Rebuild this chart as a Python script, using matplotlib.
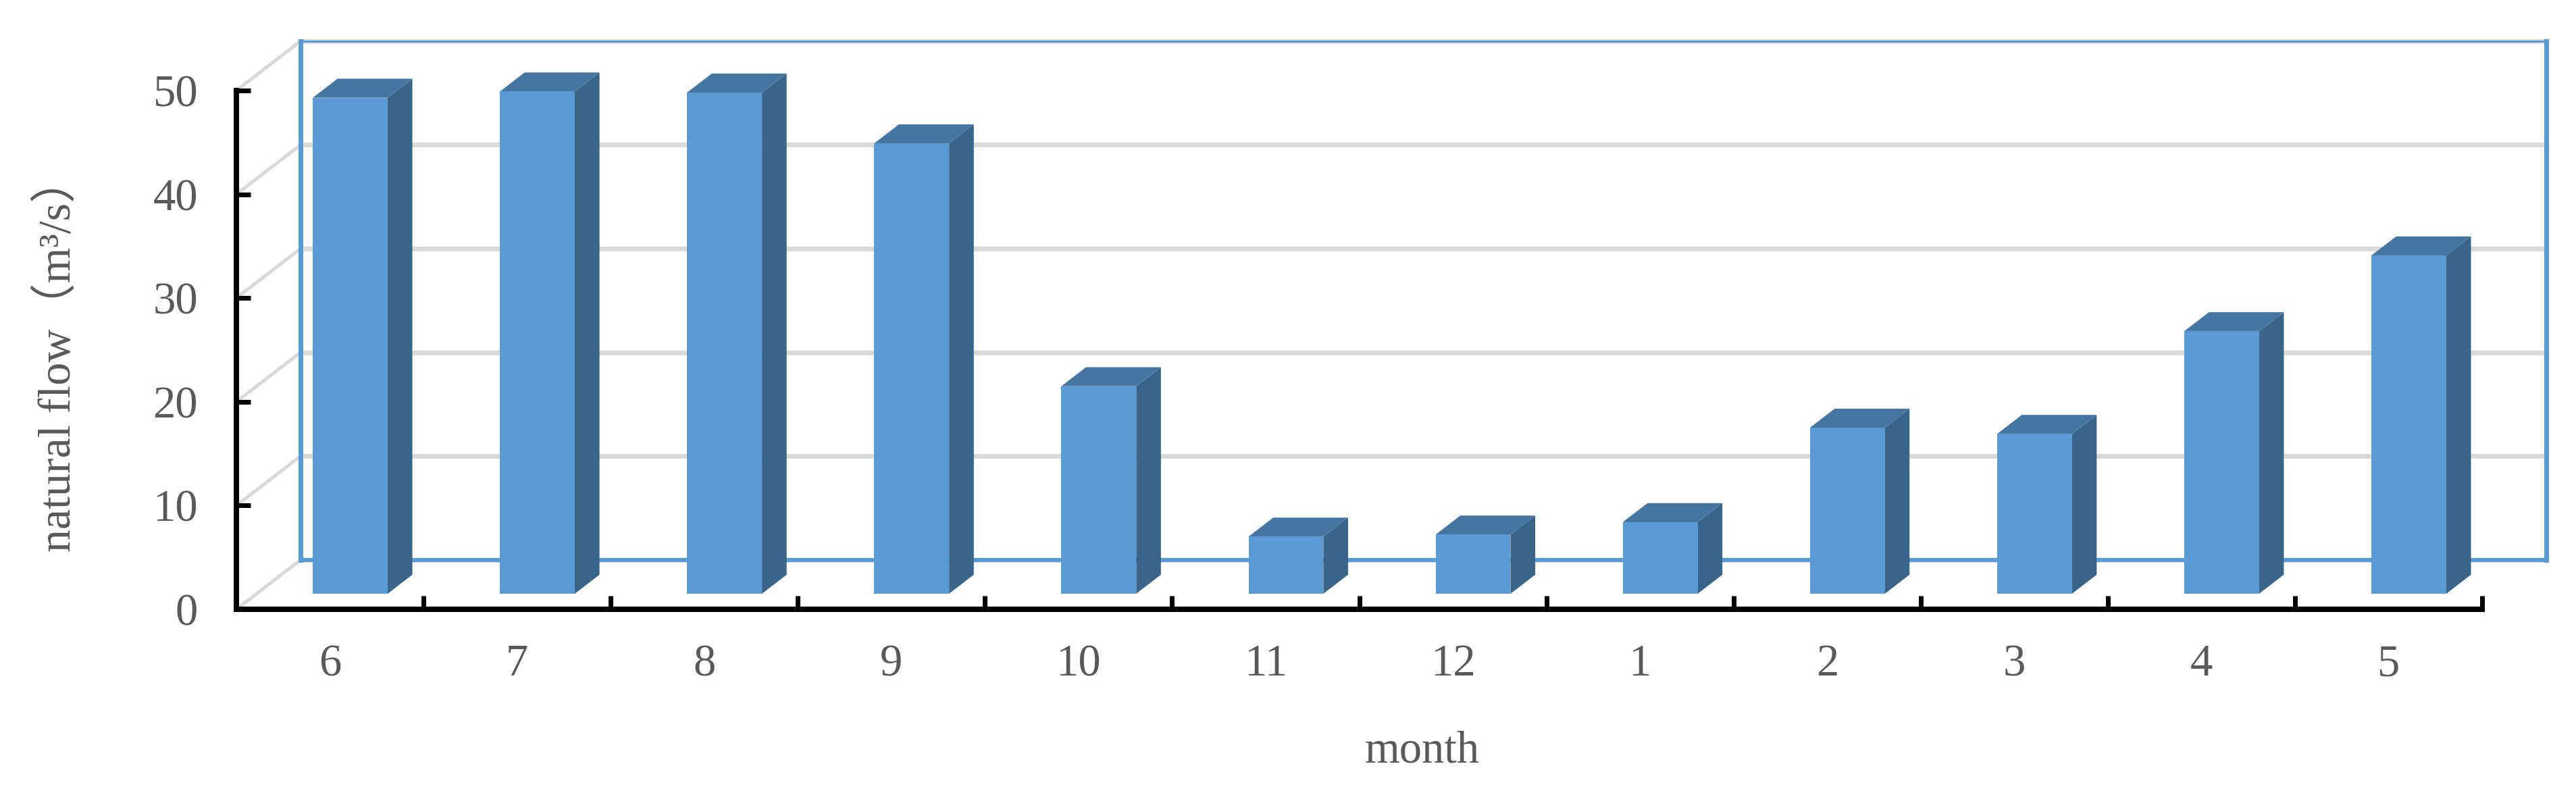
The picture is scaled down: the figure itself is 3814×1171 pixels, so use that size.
import matplotlib
matplotlib.use('Agg')
import numpy as np
import matplotlib.pyplot as plt

# 数据
months = ['6', '7', '8', '9', '10', '11', '12', '1', '2', '3', '4', '5']
flow = [47.8, 48.4, 48.3, 43.4, 20.0, 5.5, 5.7, 6.9, 16.0, 15.4, 25.3, 32.6]
y_ticks = [0, 10, 20, 30, 40, 50]

plt.rcParams['font.family'] = ['Liberation Serif', 'Noto Sans CJK SC']
text_color = '#595959'
px = 0.72  # dpi=100 时 1 像素对应的磅数

W, H = 3814, 1171
fig = plt.figure(figsize=((W + 0.1) / 100, (H + 0.1) / 100), dpi=100)
ax = fig.add_axes([350 / W, (H - 902) / H, 3325 / W, 768 / H])
ax.set_xlim(0, len(months))
ax.set_ylim(0, 50)

# 三维效果的纵深偏移，单位是数据单位
depth_x = 0.343
depth_y = 4.76
bar_w = 0.4
front, back = 0.315, 0.70

xmax = len(months)

# 网格线：侧墙斜线 + 后墙横线
for v in y_ticks:
    ax.plot([0, depth_x], [v, v + depth_y], color='#D9D9D9', lw=5 * px, clip_on=False, zorder=1)
    ax.plot([depth_x, xmax + depth_x], [v + depth_y, v + depth_y], color='#D9D9D9', lw=7 * px,
            clip_on=False, zorder=1, solid_capstyle='butt')

# 后墙蓝色边框
top = y_ticks[-1] + depth_y
ax.plot([depth_x, depth_x], [depth_y, top], color='#5B9BD5', lw=7 * px, clip_on=False, zorder=2)
ax.plot([xmax + depth_x, xmax + depth_x], [depth_y, top], color='#5B9BD5', lw=7 * px, clip_on=False, zorder=2)
ax.plot([depth_x, xmax + depth_x], [depth_y, depth_y], color='#5B9BD5', lw=6 * px, clip_on=False, zorder=2)
ax.plot([depth_x, xmax + depth_x], [top, top], color='#5B9BD5', lw=3 * px, clip_on=False, zorder=2)

# 柱子：正面、侧面、顶面
for i, v in enumerate(flow):
    x0 = i + 0.5 + front * depth_x - bar_w / 2
    x1 = x0 + bar_w
    y0 = front * depth_y
    y1 = y0 + v
    dx = (back - front) * depth_x
    dy = (back - front) * depth_y
    ax.bar(x0, v, width=bar_w, bottom=y0, align='edge', color='#5B9BD5', linewidth=0,
           clip_on=False, zorder=4)
    ax.fill([x1, x1 + dx, x1 + dx, x1], [y0, y0 + dy, y1 + dy, y1], color='#3A6488', lw=0,
            clip_on=False, zorder=3)
    ax.fill([x0, x1, x1 + dx, x0 + dx], [y1, y1, y1 + dy, y1 + dy], color='#4675A0', lw=0,
            clip_on=False, zorder=3)

# 坐标轴
for s in ['top', 'right']:
    ax.spines[s].set_visible(False)
for s in ['left', 'bottom']:
    ax.spines[s].set_linewidth(8 * px)
    ax.spines[s].set_color('black')
    ax.spines[s].set_zorder(5)
ax.patch.set_visible(False)

ax.set_yticks(y_ticks)
ax.set_yticklabels([str(v) for v in y_ticks])
ax.tick_params(axis='y', direction='in', length=21 * px, width=7 * px, color='black',
               labelsize=48, labelcolor=text_color, pad=41)

# 刻度在类别之间，标签在类别中央
ax.set_xticks(np.arange(xmax + 1))
ax.set_xticklabels([])
ax.set_xticks(np.arange(xmax) + 0.5, minor=True)
ax.set_xticklabels(months, minor=True)
ax.tick_params(axis='x', which='major', direction='in', length=20 * px, width=7 * px, color='black')
ax.tick_params(axis='x', which='minor', length=0, labelsize=48, labelcolor=text_color, pad=37)

fig.text(2106 / W, (H - 1112) / H, 'month', fontsize=48, color=text_color, ha='center', va='center')
fig.text(85 / W, (H - 524) / H, 'natural flow（m³/s）', fontsize=49, color=text_color,
         rotation=90, ha='center', va='center')

fig.savefig('out.png', dpi=100, facecolor='white')
